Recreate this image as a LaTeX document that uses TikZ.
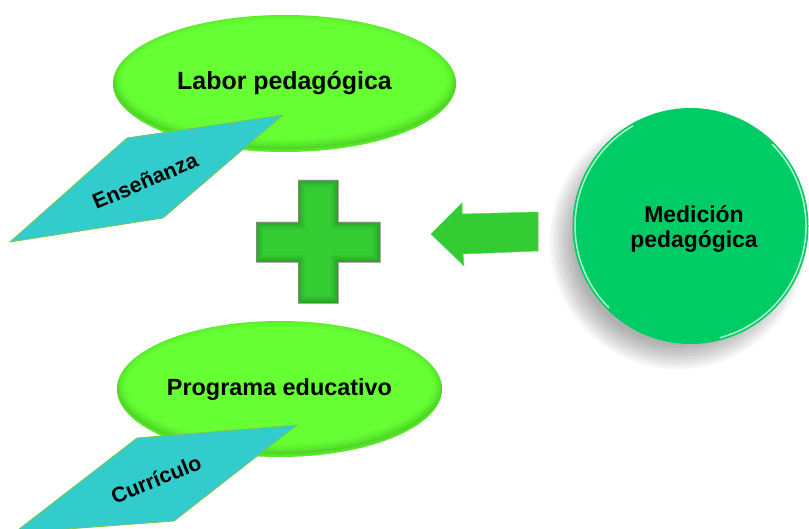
\documentclass[tikz,border=0pt]{standalone}
\usepackage{fontspec}
\setmainfont{Liberation Sans}
\usetikzlibrary{shapes.geometric}
\definecolor{limeg}{HTML}{66FF33}
\definecolor{limedark}{HTML}{2E9A18}
\definecolor{tealf}{HTML}{33CCCC}
\definecolor{tealedge}{HTML}{7CC84A}
\definecolor{plusg}{HTML}{33CC33}
\definecolor{plusdark}{HTML}{145F14}
\definecolor{circg}{HTML}{00CC66}
\tikzset{
  lbl/.style={font=\bfseries\fontsize{23.5}{27}\selectfont, text=black},
  paralbl/.style={font=\bfseries\fontsize{21.5}{25}\selectfont, text=black, inner sep=0pt},
  bubble/.style n args={2}{ellipse, fill=limeg, inner sep=0pt,
     minimum width=2*#1 bp, minimum height=2*#2 bp,
     path picture={
       \foreach \w/\o in {18/0.05,13/0.07,9/0.09,5/0.11,2/0.14}
         \draw[line width=\w pt, draw=limedark, opacity=\o]
           ([yshift=4pt]path picture bounding box.center) ellipse [x radius=#1, y radius=#2];
     }},
  paraface/.style={fill=tealf, draw=tealedge, line width=0.8pt, line join=miter},
}
\begin{document}
\begin{tikzpicture}[x=1bp, y=-1bp]
\useasboundingbox (0,0) rectangle (809,529);

% top ellipse + parallelogram
\node (labor) [bubble={171.5}{68.5}, lbl, font=\bfseries\fontsize{25}{28}\selectfont] at (284.5,83.5) {Labor pedagógica};
\path[paraface] (127,138) -- (283,115) -- (163,218) -- (10,242) -- cycle;
\node (ensenanza) [paralbl, rotate=23] at (145,181) {Enseñanza};

% bottom ellipse + parallelogram
\node (programa) [bubble={162.5}{68}, lbl] at (279.5,389) {Programa educativo};
\path[paraface] (137,438) -- (297,425) -- (174,521) -- (14,533) -- cycle;
\node (curriculo) [paralbl, rotate=22] at (156,479) {Currículo};

% plus sign
\begin{scope}
  \path[fill=plusg, draw=gray!60, line width=0.6pt]
    (298,180) -- (338,180) -- (338,222) -- (380,222) -- (380,262) -- (338,262)
    -- (338,303) -- (298,303) -- (298,262) -- (256,262) -- (256,222) -- (298,222) -- cycle;
  \clip (298,180) -- (338,180) -- (338,222) -- (380,222) -- (380,262) -- (338,262)
    -- (338,303) -- (298,303) -- (298,262) -- (256,262) -- (256,222) -- (298,222) -- cycle;
  \foreach \w/\o in {14/0.07,10/0.09,6/0.12,3/0.16}
    \draw[line width=\w pt, draw=plusdark, opacity=\o]
      (298,180) -- (338,180) -- (338,222) -- (380,222) -- (380,262) -- (338,262)
      -- (338,303) -- (298,303) -- (298,262) -- (256,262) -- (256,222) -- (298,222) -- cycle;
\end{scope}

% block arrow
\path[fill=plusg, draw=plusg!80!white, line width=0.5pt]
  (431,234) -- (462,203) -- (462,214) -- (538,212) -- (538,251) -- (463,254) -- (464,266) -- cycle;

% circle shadow
\foreach \r in {104,107,...,128}
  \fill[black, opacity=0.04] (678,241) circle [radius=\r];

% circle
\node (medicion) [circle, fill=circg, minimum size=236bp, inner sep=0pt] at (690.5,226) {};
\draw[white, opacity=0.7, line width=1.5pt, line cap=round]
  ([shift={(120:115.5bp)}]medicion.center) arc [start angle=120, end angle=225, radius=115.5bp];
\draw[white, opacity=0.7, line width=1.5pt, line cap=round]
  ([shift={(-75:115.5bp)}]medicion.center) arc [start angle=-75, end angle=45, radius=115.5bp];
\node (medtxt) [lbl, align=center, font=\bfseries\fontsize{23}{25}\selectfont] at (694,229) {Medición\\pedagógica};
\end{tikzpicture}
\end{document}
